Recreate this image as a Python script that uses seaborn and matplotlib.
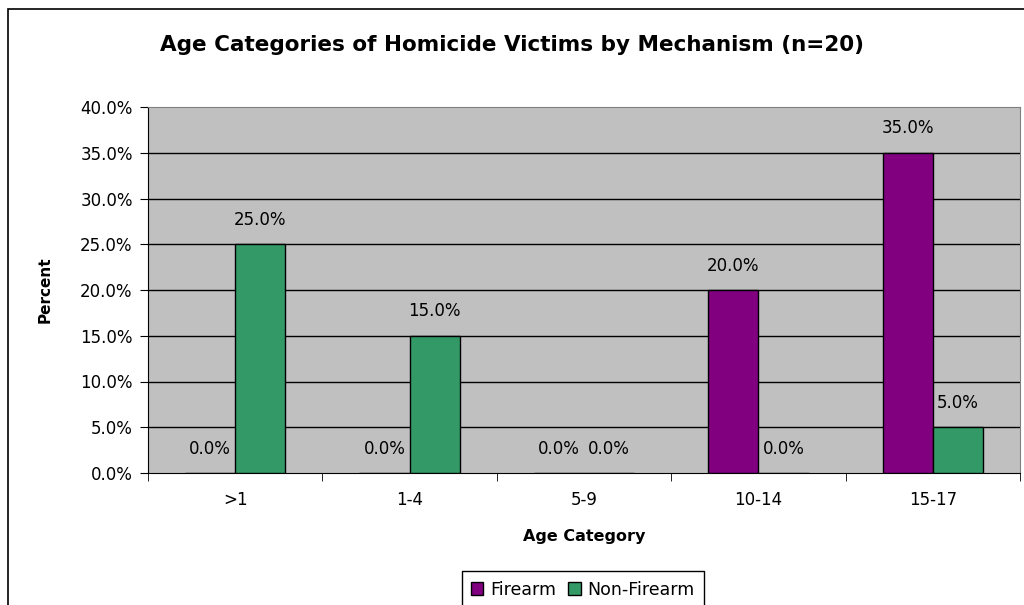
import numpy as np
import pandas as pd
import seaborn as sns
import matplotlib.pyplot as plt
from matplotlib.patches import Rectangle
from matplotlib.ticker import FuncFormatter

plt.rcParams['font.family'] = ['DejaVu Sans']

categorias = ['>1', '1-4', '5-9', '10-14', '15-17']
firearm = [0.0, 0.0, 0.0, 20.0, 35.0]
non_firearm = [25.0, 15.0, 0.0, 0.0, 5.0]
mecanismos = ['Firearm', 'Non-Firearm']
cores = ['#800080', '#339966']

dados = pd.DataFrame({
    'age': categorias * 2,
    'pct': firearm + non_firearm,
    'mech': [mecanismos[0]] * len(categorias) + [mecanismos[1]] * len(categorias),
})

fig = plt.figure(figsize=(10.24, 6.05), dpi=100)
ax = fig.add_axes([148 / 1024, 1 - 473 / 605, 872 / 1024, 366 / 605])
ax.set_facecolor('#c0c0c0')

sns.barplot(data=dados, x='age', y='pct', hue='mech', palette=cores,
            saturation=1, width=0.575, edgecolor='black', linewidth=1,
            ax=ax, zorder=3)

ax.set_ylim(0, 40)
ax.set_xlim(-0.5, len(categorias) - 0.5)
ax.set_yticks(np.arange(0, 40.1, 5))
ax.yaxis.set_major_formatter(FuncFormatter(lambda v, p: f'{v:.1f}%'))
for y in np.arange(5, 40, 5):
    ax.axhline(y, color='black', lw=1, zorder=1)

for cont in ax.containers:
    ax.bar_label(cont, labels=[f'{v:.1f}%' for v in cont.datavalues],
                 padding=11, fontsize=12)

ax.set_xticks(np.arange(-0.5, len(categorias), 1), minor=True)
ax.tick_params(axis='x', which='major', length=0, labelsize=12, pad=13)
ax.tick_params(axis='x', which='minor', length=6, color='black')
ax.tick_params(axis='y', length=6, labelsize=12, color='black', pad=5)

for lado in ['top', 'right']:
    ax.spines[lado].set_color('#808080')
for lado in ['left', 'bottom']:
    ax.spines[lado].set_color('black')

ax.set_xlabel('Age Category', fontsize=11.5, fontweight='bold', labelpad=14)
ax.set_ylabel('Percent', fontsize=11, fontweight='bold', labelpad=20)

handles, labels = ax.get_legend_handles_labels()
ax.get_legend().remove()
leg = fig.legend(handles, labels, loc='upper center', ncol=2,
                 bbox_to_anchor=(583 / 1024, 1 - 571 / 605),
                 fontsize=12.5, handlelength=0.7, handleheight=0.7,
                 handletextpad=0.4, columnspacing=0.7, borderpad=0.55,
                 borderaxespad=0.0,
                 fancybox=False, framealpha=1, edgecolor='black')
leg.get_frame().set_linewidth(1)

fig.text(512 / 1024, 1 - 45 / 605,
         'Age Categories of Homicide Victims by Mechanism (n=20)',
         ha='center', va='center', fontsize=15.5, fontweight='bold')

fig.patches.append(Rectangle((8 / 1024, -0.1), 1.2, 1.1 - 9 / 605,
                             transform=fig.transFigure, fill=False,
                             edgecolor='black', lw=1.2))

fig.savefig('out.png', dpi=100)
